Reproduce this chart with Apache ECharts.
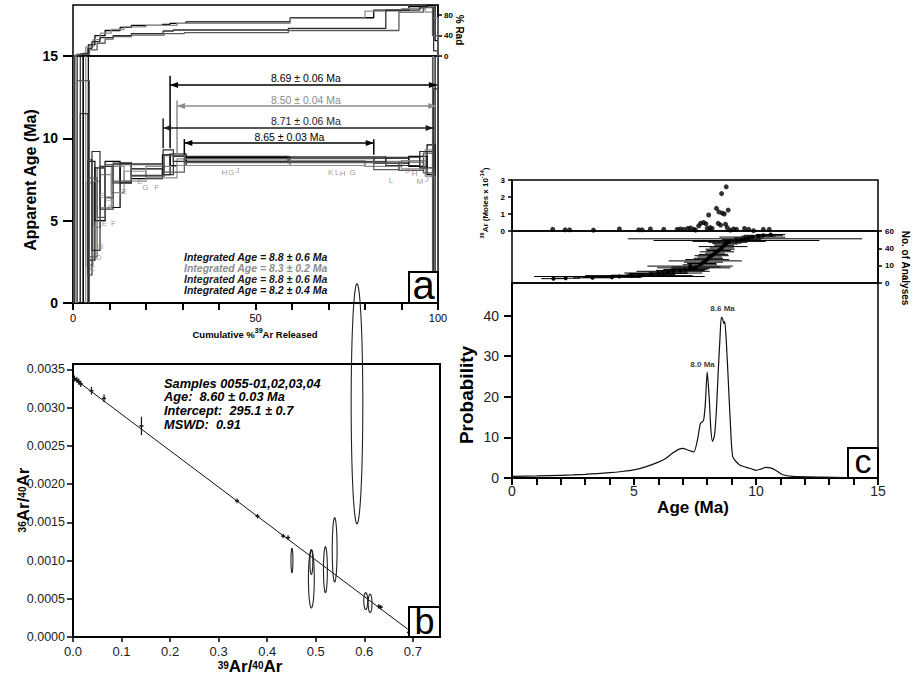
<!DOCTYPE html>
<html><head><meta charset="utf-8">
<script src="https://cdn.jsdelivr.net/npm/echarts@6/dist/echarts.min.js"></script>
<style>html,body{margin:0;padding:0;background:#fff}#c{width:913px;height:681px}</style>
</head><body><div id="c"></div><script>
// ---------- Panel a : step-heating age spectra ----------
// rows: [cum %39Ar start, cum %39Ar end, apparent age (Ma), error (Ma), % radiogenic]
const specBlack = [
  [0.0, 2.8, 6.0, 12.0, 0], [2.8, 4.2, 7.0, 9.0, 5], [4.2, 6.0, 5.6, 3.0, 22],
  [6.0, 8.8, 6.6, 1.6, 40], [8.8, 12.9, 7.2, 1.4, 50], [12.9, 16.0, 7.9, 0.6, 56],
  [16.0, 24.5, 7.85, 0.3, 60], [24.5, 26.6, 8.4, 0.6, 62], [26.6, 31.0, 8.7, 0.35, 64],
  [31.0, 59.5, 8.72, 0.12, 67], [59.5, 82.4, 8.68, 0.12, 75], [82.4, 92.0, 8.65, 0.15, 90],
  [92.0, 97.0, 8.6, 0.3, 97], [97.0, 99.2, 8.7, 0.9, 99], [99.2, 100, 7.5, 9.0, 30]
];
const specGrey = [
  [0.0, 0.8, 5.0, 12.0, 0], [0.8, 3.5, 6.5, 9.5, 3], [3.5, 5.5, 4.8, 2.5, 18],
  [5.5, 7.5, 6.0, 1.4, 32], [7.5, 10.5, 6.8, 1.0, 45], [10.5, 14.0, 7.5, 0.8, 52],
  [14.0, 20.0, 7.7, 0.3, 57], [20.0, 28.5, 7.95, 0.35, 60], [28.5, 59.5, 8.55, 0.2, 64],
  [59.5, 80.0, 8.5, 0.15, 74], [80.0, 90.0, 8.45, 0.15, 88], [90.0, 96.5, 8.4, 0.25, 93],
  [96.5, 98.8, 8.5, 0.8, 86], [98.8, 100, 9.5, 8.0, 75]
];
const specDark = [
  [0.0, 2.0, 7.0, 12.0, 0], [2.0, 4.1, 4.5, 7.0, 4], [4.1, 5.2, 5.2, 3.5, 15],
  [5.2, 7.4, 6.2, 3.0, 28], [7.4, 11.0, 7.0, 1.3, 36], [11.0, 16.0, 7.9, 0.6, 40],
  [16.0, 24.7, 8.1, 0.35, 44], [24.7, 27.5, 8.55, 0.75, 49], [27.5, 59.0, 8.75, 0.15, 51],
  [59.0, 85.7, 8.72, 0.15, 54], [85.7, 95.0, 8.6, 0.25, 90], [95.0, 98.8, 8.7, 0.5, 96],
  [98.8, 100, 6.0, 7.0, 10]
];
const specMid = [
  [0.0, 1.2, 6.0, 12.0, 0], [1.2, 4.5, 5.5, 8.0, 3], [4.5, 6.6, 5.2, 2.4, 12],
  [6.6, 8.8, 6.7, 1.5, 25], [8.8, 11.0, 7.4, 1.0, 33], [11.0, 16.0, 7.9, 0.5, 38],
  [16.0, 25.0, 8.05, 0.35, 41], [25.0, 30.5, 8.45, 0.5, 44], [30.5, 59.0, 8.65, 0.12, 46],
  [59.0, 82.4, 8.65, 0.12, 50], [82.4, 89.3, 8.3, 0.2, 50], [89.3, 96.0, 8.3, 0.25, 86],
  [96.0, 98.5, 8.5, 0.6, 95], [98.5, 100, 9.0, 8.0, 40]
];
// plateau spans [start %, end %] and their labels
const plateauSpans = [[26.6, 99.7], [28.5, 99.5], [24.7, 98.8], [30.5, 82.4]];
const plateauLabels = ['8.69 \u00b1 0.06 Ma', '8.50 \u00b1 0.04 Ma', '8.71 \u00b1 0.06 Ma', '8.65 \u00b1 0.03 Ma'];
const integratedAges = ['Integrated Age = 8.8 \u00b1 0.6 Ma', 'Integrated Age = 8.3 \u00b1 0.2 Ma',
                        'Integrated Age = 8.8 \u00b1 0.6 Ma', 'Integrated Age = 8.2 \u00b1 0.4 Ma'];
// step letters [cum %, age, letter]
const stepLetters = [
  [5.3, 2.1, 'C'], [7.0, 2.75, 'D'], [7.6, 3.45, 'B'], [8.6, 4.8, 'E'], [11.1, 4.8, 'F'],
  [10.3, 5.8, 'D'], [8.0, 6.5, 'E'], [9.6, 6.35, 'G'], [14.1, 6.8, 'E'], [18.4, 7.4, 'E'],
  [19.8, 7.0, 'G'], [22.9, 7.0, 'F'], [41.5, 7.95, 'H'], [43.3, 7.95, 'G'], [45.1, 8.05, 'J'],
  [70.6, 7.95, 'K'], [72.4, 7.95, 'L'], [73.9, 7.85, 'H'], [76.6, 7.95, 'G'], [87.1, 7.45, 'L'],
  [91.6, 8.05, 'J'], [93.6, 7.85, 'H'], [95.0, 7.35, 'M'], [96.9, 7.5, 'J'], [98.5, 7.75, 'K']
];
const cumTicks = [0, 50, 100];
const ageTicks = [0, 5, 10, 15];
const radTicks = [0, 40, 80];

// ---------- Panel b : inverse isochron ----------
const isoXTicks = [0, 0.1, 0.2, 0.3, 0.4, 0.5, 0.6, 0.7];
const isoYTicks = [0, 0.0005, 0.001, 0.0015, 0.002, 0.0025, 0.003, 0.0035];
// [39Ar/40Ar, 36Ar/40Ar, error 36/40]
const isoPoints = [
  [0.003, 0.00338, 0.00004], [0.008, 0.00336, 0.00004], [0.012, 0.00334, 0.00004],
  [0.016, 0.00331, 0.00004], [0.038, 0.00322, 0.00005], [0.064, 0.00312, 0.00005],
  [0.141, 0.00276, 0.00012], [0.338, 0.00178, 0.00003], [0.380, 0.00158, 0.00003],
  [0.433, 0.00132, 0.00003], [0.443, 0.00130, 0.00003], [0.630, 0.00040, 0.00003],
  [0.634, 0.00039, 0.00003], [0.692, 0.00006, 0.00004]
];
// error ellipses [cx, cy, rx, ry]
const isoEllipses = [
  [0.585, 0.00305, 0.012, 0.00157], [0.451, 0.00100, 0.002, 0.00016],
  [0.491, 0.00076, 0.006, 0.00038], [0.491, 0.00098, 0.003, 0.00016],
  [0.520, 0.00088, 0.004, 0.00030], [0.539, 0.00114, 0.005, 0.00042],
  [0.603, 0.00047, 0.004, 0.00011], [0.612, 0.00044, 0.004, 0.00012]
];
const isoLine = [[0, 0.00339], [0.69, 0.00010]];
const isoText = ['Samples 0055-01,02,03,04', 'Age:  8.60 \u00b1 0.03 Ma', 'Intercept:  295.1 \u00b1 0.7', 'MSWD:  0.91'];

// ---------- Panel c : single-crystal ages ----------
// [age Ma, 39Ar moles x1e-14]
const molesPoints = [
  [1.67, 0.1], [2.18, 0.07], [2.36, 0.07], [3.34, 0.05], [4.40, 0.12], [5.19, 0.07], [5.33, 0.07],
  [5.67, 0.12], [6.22, 0.1], [6.77, 0.1], [6.90, 0.12], [7.04, 0.1], [7.20, 0.15], [7.32, 0.18],
  [7.45, 0.1], [7.52, 0.05], [7.65, 0.3], [7.73, 0.45], [7.85, 0.5], [7.95, 0.42], [8.0, 0.15],
  [8.06, 0.94], [8.12, 0.2], [8.20, 0.15], [8.38, 1.33], [8.45, 0.45], [8.48, 1.12], [8.55, 0.35],
  [8.59, 2.2], [8.62, 1.05], [8.70, 1.0], [8.75, 0.4], [8.78, 2.6], [8.82, 0.2], [8.86, 1.23],
  [8.95, 0.05], [9.08, 0.12], [9.20, 0.1], [9.53, 0.15], [9.70, 0.1], [9.90, 0.02], [10.3, 0.1], [10.54, 0.1]
];
// [age Ma, analysis no., error Ma]
const analyses = [
  [1.70, 5, 0.5], [2.20, 5.5, 0.6], [3.30, 6, 0.8], [4.10, 6.5, 1.2], [4.40, 7.5, 3.5], [4.90, 8, 1.0],
  [5.20, 8.5, 2.2], [5.35, 9, 1.3], [5.70, 10, 1.0], [6.00, 11, 1.2], [6.20, 11.5, 1.6], [6.40, 12.5, 0.8],
  [6.60, 13.5, 1.5], [6.90, 14.5, 1.0], [7.10, 15.5, 0.9], [7.30, 16.5, 0.8], [7.45, 17.5, 1.5],
  [7.55, 18.5, 1.0], [7.30, 19.5, 1.75], [7.70, 21, 0.7], [7.78, 22.5, 0.6], [7.85, 24, 0.8],
  [7.92, 25.5, 1.5], [8.00, 27, 0.9], [8.05, 28.5, 0.6], [8.10, 30, 0.5], [8.18, 31.5, 0.7],
  [8.25, 33, 0.6], [8.32, 34.5, 0.4], [8.40, 36, 0.7], [8.47, 37.5, 0.5], [8.53, 39, 0.6],
  [8.60, 40.5, 0.5], [8.65, 42, 1.0], [8.70, 43.5, 0.4], [8.75, 45, 0.5], [8.80, 46, 0.6],
  [8.85, 47, 0.8], [8.90, 48, 1.5], [9.20, 49, 3.4], [9.40, 50, 0.8], [9.55, 51, 4.8],
  [9.70, 52, 0.6], [9.85, 53, 1.35], [10.1, 54, 0.7], [10.3, 55, 0.8], [10.6, 56, 0.6]
];
const analysisTickVals = [0, 20, 40, 60];
const analysisTickText = ['0', '10', '40', '60'];
const molesTicks = [0, 1, 2, 3];
// probability density [age Ma, probability]
const probCurve = [
  [0, 0.4], [1, 0.5], [2, 0.65], [2.5, 0.75], [3, 0.9], [3.5, 1.1], [4, 1.3], [4.5, 1.6], [5, 2.0],
  [5.5, 2.8], [6, 3.9], [6.3, 4.8], [6.6, 6.2], [6.85, 7.1], [7.0, 7.3], [7.2, 6.9], [7.45, 6.4],
  [7.6, 9.3], [7.72, 13.4], [7.85, 14.2], [7.92, 18], [8.0, 26.1], [8.08, 20], [8.15, 12], [8.22, 9.0],
  [8.3, 10.5], [8.38, 17], [8.45, 26], [8.52, 34], [8.58, 39.6], [8.64, 39.0], [8.68, 38.0],
  [8.72, 38.5], [8.78, 34], [8.85, 25.7], [8.95, 13.4], [9.05, 5.2], [9.33, 3.2], [9.74, 2.4],
  [10.0, 1.9], [10.2, 2.2], [10.4, 2.6], [10.6, 2.5], [10.84, 1.8], [11.1, 0.8], [11.5, 0.4],
  [12.7, 0.2], [13.7, 0.1]
];
const peakLabels = [[8.63, 41.8, '8.6 Ma'], [7.81, 27.9, '8.0 Ma']];
const probXTicks = [0, 5, 10, 15];
const probYTicks = [0, 10, 20, 30, 40];

// ================= build chart =================
const FF = '"Liberation Sans", Arial, Helvetica, sans-serif';
const specColors = ['#000000', '#8c8c8c', '#2e2e2e', '#5a5a5a'];
const specs = [specBlack, specGrey, specDark, specMid];
const arrowColors = ['#000000', '#8c8c8c', '#1e1e1e', '#000000'];
const arrowLevels = [13.24, 11.96, 10.63, 9.71];
const arrowTicks = [[13.8, 9.4], [12.3, 9.0], [11.2, 9.4], [9.95, 9.0]];
const arrowTextX = [63.8, 63.8, 63.8, 59.3];
const integratedColors = ['#111111', '#8c8c8c', '#222222', '#111111'];
const CLEAR = 'rgba(0,0,0,0)';

function txt(x, y, text, o) {
  o = o || {};
  return {
    type: 'text', x: x, y: y, rotation: o.rot || 0, z: 100,
    style: {
      text: text, fill: o.color || '#000', fontSize: o.size || 12, fontWeight: o.weight || 'normal',
      fontStyle: o.style || 'normal', fontFamily: FF, lineHeight: o.lh,
      align: o.align || 'center', verticalAlign: o.va || 'middle',
      textAlign: o.align || 'center', textVerticalAlign: o.va || 'middle', rich: o.rich
    }
  };
}
function letterBox(x, y, w, h, letter, size, ty) {
  return {
    type: 'group', z: 90, children: [
      { type: 'rect', shape: { x: x, y: y, width: w, height: h }, style: { fill: '#fff', stroke: '#000', lineWidth: 2 }, z: 90 },
      txt(x + w / 2, ty, letter, { size: size })
    ]
  };
}
function boxSeries(steps, color) {
  return {
    type: 'custom', xAxisIndex: 1, yAxisIndex: 1, clip: true, silent: true,
    encode: { x: [0, 1], y: 2 },
    data: steps.map(s => [s[0], s[1], s[2], s[3]]),
    renderItem(params, api) {
      const x0 = api.value(0), x1 = api.value(1), a = api.value(2), e = api.value(3);
      const p0 = api.coord([x0, a + e]), p1 = api.coord([x1, a - e]);
      return { type: 'rect', shape: { x: p0[0], y: p0[1], width: p1[0] - p0[0], height: p1[1] - p0[1] },
               style: { fill: 'none', stroke: color, lineWidth: 1.2 } };
    }
  };
}
function radSeries(steps, color) {
  const pts = [[0, 0]];
  steps.forEach(s => { pts.push([s[0], s[4]]); pts.push([s[1], s[4]]); });
  pts.push([100, 0]);
  return { type: 'line', xAxisIndex: 0, yAxisIndex: 0, data: pts, showSymbol: false, symbol: 'none',
           lineStyle: { color: color, width: 1.3 }, silent: true };
}
const axLine = w => ({ show: true, onZero: false, lineStyle: { color: '#000', width: w } });
const noSplit = { show: false };

const integratedRich = {};
integratedColors.forEach((c, i) => {
  integratedRich['l' + i] = { fill: c, color: c, fontSize: 10.5, fontWeight: 'bold', fontStyle: 'italic', fontFamily: FF, lineHeight: 11 };
});
const integratedText = integratedAges.map((t, i) => '{l' + i + '|' + t + '}').join('\n');

const option = {
  animation: false,
  backgroundColor: '#fff',
  grid: [
    { left: 73, top: 5, width: 365, height: 51, show: true, borderColor: '#000', borderWidth: 1.5, backgroundColor: 'transparent', containLabel: false, outerBoundsMode: 'none' },
    { left: 73, top: 56, width: 365, height: 247, show: true, borderColor: '#000', borderWidth: 1.5, backgroundColor: 'transparent', containLabel: false, outerBoundsMode: 'none' },
    { left: 73, top: 364, width: 367, height: 273, show: true, borderColor: '#000', borderWidth: 2, backgroundColor: 'transparent', containLabel: false, outerBoundsMode: 'none' },
    { left: 512, top: 180, width: 366, height: 51, show: true, borderColor: '#000', borderWidth: 1.5, backgroundColor: 'transparent', containLabel: false, outerBoundsMode: 'none' },
    { left: 512, top: 231, width: 366, height: 52, show: true, borderColor: '#000', borderWidth: 1.5, backgroundColor: 'transparent', containLabel: false, outerBoundsMode: 'none' },
    { left: 512, top: 283, width: 366, height: 195, show: true, borderColor: '#000', borderWidth: 1.5, backgroundColor: 'transparent', containLabel: false, outerBoundsMode: 'none' }
  ],
  xAxis: [
    { gridIndex: 0, type: 'value', min: 0, max: 100, show: false },
    { gridIndex: 1, type: 'value', min: 0, max: 100, interval: 10, axisLine: axLine(2),
      axisTick: { show: true, length: 7, lineStyle: { color: '#000', width: 2 } },
      axisLabel: { customValues: cumTicks, fontSize: 11, color: '#000', margin: 9, fontFamily: FF }, splitLine: noSplit },
    { gridIndex: 2, type: 'value', min: 0, max: 0.756, axisLine: axLine(2),
      axisTick: { customValues: isoXTicks, length: 5, lineStyle: { color: '#000', width: 1.5 } },
      axisLabel: { customValues: isoXTicks, formatter: v => v.toFixed(1), fontSize: 13, color: '#222', margin: 8, fontFamily: FF },
      splitLine: noSplit },
    { gridIndex: 3, type: 'value', min: 0, max: 15, show: false },
    { gridIndex: 4, type: 'value', min: 0, max: 15, show: false },
    { gridIndex: 5, type: 'value', min: 0, max: 15, interval: 1, axisLine: axLine(2),
      axisTick: { show: true, length: 7, lineStyle: { color: '#000', width: 2 } },
      axisLabel: { customValues: probXTicks, fontSize: 14, color: '#222', margin: 6, fontFamily: FF }, splitLine: noSplit }
  ],
  yAxis: [
    { gridIndex: 0, type: 'value', position: 'right', min: 0, max: 100, axisLine: axLine(1.5),
      axisTick: { customValues: radTicks, length: 4, lineStyle: { color: '#000', width: 1.5 } },
      axisLabel: { customValues: radTicks, fontSize: 8, fontWeight: 'bold', color: '#000', margin: 6, fontFamily: FF }, splitLine: noSplit },
    { gridIndex: 1, type: 'value', min: 0, max: 15, axisLine: axLine(2.5),
      axisTick: { customValues: ageTicks, length: 10, lineStyle: { color: '#000', width: 2 } },
      axisLabel: { customValues: ageTicks, fontSize: 14, fontWeight: 'bold', color: '#000', margin: 15, fontFamily: FF }, splitLine: noSplit },
    { gridIndex: 2, type: 'value', min: 0, max: 0.00357, axisLine: axLine(2),
      axisTick: { customValues: isoYTicks, length: 6, lineStyle: { color: '#000', width: 1.5 } },
      axisLabel: { customValues: isoYTicks, formatter: v => v.toFixed(4), fontSize: 12.5, color: '#222', margin: 8, fontFamily: FF },
      splitLine: noSplit },
    { gridIndex: 3, type: 'value', min: 0, max: 3, axisLine: axLine(1.5),
      axisTick: { customValues: molesTicks, length: 4, lineStyle: { color: '#000', width: 1.5 } },
      axisLabel: { customValues: molesTicks, fontSize: 8, fontWeight: 'bold', color: '#000', margin: 7, fontFamily: FF }, splitLine: noSplit },
    { gridIndex: 4, type: 'value', position: 'right', min: 0, max: 60, axisLine: axLine(1.5),
      axisTick: { customValues: analysisTickVals, length: 4, lineStyle: { color: '#000', width: 1.5 } },
      axisLabel: { customValues: analysisTickVals, formatter: v => analysisTickText[analysisTickVals.indexOf(v)],
                   fontSize: 8, fontWeight: 'bold', color: '#000', margin: 7, fontFamily: FF }, splitLine: noSplit },
    { gridIndex: 5, type: 'value', min: 0, max: 48, axisLine: axLine(2),
      axisTick: { customValues: probYTicks, length: 8, lineStyle: { color: '#000', width: 2 } },
      axisLabel: { customValues: probYTicks, fontSize: 14, color: '#222', margin: 13, fontFamily: FF }, splitLine: noSplit }
  ],
  series: [
    ...specs.map((s, i) => boxSeries(s, specColors[i])),
    ...specs.map((s, i) => radSeries(s, specColors[i])),
    { type: 'custom', xAxisIndex: 1, yAxisIndex: 1, clip: false, silent: true, z: 5,
      data: plateauSpans.map((p, i) => [p[0], p[1], arrowLevels[i]]),
      renderItem(params, api) {
        const i = params.dataIndex, col = arrowColors[i];
        const lv = api.value(2);
        const a = api.coord([api.value(0), lv]), b = api.coord([api.value(1), lv]);
        const t0 = api.coord([api.value(0), arrowTicks[i][0]]), t1 = api.coord([api.value(0), arrowTicks[i][1]]);
        const tc = api.coord([arrowTextX[i], lv]);
        const kids = [
          { type: 'line', shape: { x1: a[0], y1: a[1], x2: b[0], y2: b[1] }, style: { stroke: col, lineWidth: 1.5 } },
          { type: 'polygon', shape: { points: [[a[0], a[1]], [a[0] + 8, a[1] - 3], [a[0] + 8, a[1] + 3]] }, style: { fill: col } },
          { type: 'polygon', shape: { points: [[b[0], b[1]], [b[0] - 8, b[1] - 3], [b[0] - 8, b[1] + 3]] }, style: { fill: col } },
          { type: 'line', shape: { x1: t0[0], y1: t0[1], x2: t1[0], y2: t1[1] }, style: { stroke: col, lineWidth: 1.5 } },
          { type: 'text', x: tc[0], y: tc[1] - 1, style: { text: plateauLabels[i], fill: col, fontSize: 10.5, fontFamily: FF,
            align: 'center', verticalAlign: 'bottom', textAlign: 'center', textVerticalAlign: 'bottom' } }
        ];
        if (i === 3) {
          const r0 = api.coord([api.value(1), arrowTicks[i][0]]), r1 = api.coord([api.value(1), arrowTicks[i][1]]);
          kids.push({ type: 'line', shape: { x1: r0[0], y1: r0[1], x2: r1[0], y2: r1[1] }, style: { stroke: col, lineWidth: 1.5 } });
        }
        return { type: 'group', children: kids };
      }
    },
    { type: 'scatter', xAxisIndex: 1, yAxisIndex: 1, symbolSize: 1, itemStyle: { color: CLEAR }, silent: true,
      data: stepLetters, label: { show: true, position: 'inside', formatter: p => p.value[2], color: '#808080', fontSize: 8, fontFamily: FF } },
    // panel b
    { type: 'line', xAxisIndex: 2, yAxisIndex: 2, data: isoLine, showSymbol: false, symbol: 'none',
      lineStyle: { color: '#111', width: 1 }, silent: true },
    { type: 'custom', xAxisIndex: 2, yAxisIndex: 2, clip: false, silent: true, data: isoPoints,
      renderItem(params, api) {
        const x = api.value(0), y = api.value(1), e = api.value(2);
        const t = api.coord([x, y + e]), b = api.coord([x, y - e]), c = api.coord([x, y]);
        return { type: 'group', children: [
          { type: 'line', shape: { x1: t[0], y1: t[1], x2: b[0], y2: b[1] }, style: { stroke: '#111', lineWidth: 1.2 } },
          { type: 'line', shape: { x1: c[0] - 2, y1: c[1], x2: c[0] + 2, y2: c[1] }, style: { stroke: '#111', lineWidth: 1.5 } }
        ] };
      }
    },
    { type: 'custom', xAxisIndex: 2, yAxisIndex: 2, clip: false, silent: true, data: isoEllipses, z: 4,
      renderItem(params, api) {
        const cx = api.value(0), cy = api.value(1), rx = api.value(2), ry = api.value(3);
        const pts = [];
        for (let k = 0; k <= 60; k++) {
          const t = k / 60 * 2 * Math.PI;
          pts.push(api.coord([cx + rx * Math.cos(t), cy + ry * Math.sin(t)]));
        }
        return { type: 'polygon', shape: { points: pts }, style: { fill: 'none', stroke: '#222', lineWidth: 1.1 } };
      }
    },
    // panel c
    { type: 'scatter', xAxisIndex: 3, yAxisIndex: 3, data: molesPoints, symbolSize: 5,
      itemStyle: { color: '#000' }, silent: true, clip: false },
    { type: 'custom', xAxisIndex: 4, yAxisIndex: 4, clip: true, silent: true, data: analyses,
      renderItem(params, api) {
        const age = api.value(0), r = api.value(1), e = api.value(2);
        const a = api.coord([age - e, r]), b = api.coord([age + e, r]), c = api.coord([age, r]);
        return { type: 'group', children: [
          { type: 'line', shape: { x1: a[0], y1: a[1], x2: b[0], y2: b[1] }, style: { stroke: '#000', lineWidth: 1 } },
          { type: 'circle', shape: { cx: c[0], cy: c[1], r: 2 }, style: { fill: '#000' } }
        ] };
      }
    },
    { type: 'line', xAxisIndex: 5, yAxisIndex: 5, data: probCurve, showSymbol: false, symbol: 'none', smooth: 0.2,
      lineStyle: { color: '#111', width: 1.2 }, silent: true },
    { type: 'scatter', xAxisIndex: 5, yAxisIndex: 5, symbolSize: 1, itemStyle: { color: CLEAR }, silent: true,
      data: peakLabels, label: { show: true, position: 'inside', formatter: p => p.value[2], color: '#000',
      fontSize: 8, fontWeight: 'bold', fontFamily: FF } }
  ],
  graphic: [
    txt(30, 180, 'Apparent Age (Ma)', { rot: Math.PI / 2, size: 16, weight: 'bold' }),
    txt(459, 30, '% Rad', { rot: -Math.PI / 2, size: 10, weight: 'bold' }),
    txt(255, 333, '{n|Cumulative %}{s|39}{n|Ar Released}', { rich: {
      n: { fontSize: 9.5, fontWeight: 'bold', fontFamily: FF, verticalAlign: 'bottom', lineHeight: 13 },
      s: { fontSize: 7, fontWeight: 'bold', fontFamily: FF, verticalAlign: 'top', lineHeight: 13 } } }),
    txt(184, 251.5, integratedText, { align: 'left', va: 'top', rich: integratedRich }),
    letterBox(409, 272, 29, 31, 'a', 40, 285),
    // panel b
    txt(22, 500, '{s|36}{n|Ar/}{s|40}{n|Ar}', { rot: Math.PI / 2, rich: {
      n: { fontSize: 17, fontWeight: 'bold', fontFamily: FF, verticalAlign: 'bottom', lineHeight: 20 },
      s: { fontSize: 10, fontWeight: 'bold', fontFamily: FF, verticalAlign: 'middle', lineHeight: 20 } } }),
    txt(250, 665, '{s|39}{n|Ar/}{s|40}{n|Ar}', { rich: {
      n: { fontSize: 17, fontWeight: 'bold', fontFamily: FF, verticalAlign: 'bottom', lineHeight: 20 },
      s: { fontSize: 10, fontWeight: 'bold', fontFamily: FF, verticalAlign: 'middle', lineHeight: 20 } } }),
    txt(164, 376.2, isoText.join('\n'), { align: 'left', va: 'top', size: 12.8, weight: 'bold', style: 'italic', lh: 13.8 }),
    letterBox(409, 607, 31, 30, 'b', 36, 621),
    // panel c
    txt(484, 203, '{s|39}{n|Ar (Moles x 10}{s|-14}{n|)}', { rot: Math.PI / 2, rich: {
      n: { fontSize: 8, fontWeight: 'bold', fontFamily: FF, verticalAlign: 'bottom', lineHeight: 10 },
      s: { fontSize: 5.5, fontWeight: 'bold', fontFamily: FF, verticalAlign: 'top', lineHeight: 10 } } }),
    txt(905, 268, 'No. of Analyses', { rot: -Math.PI / 2, size: 10, weight: 'bold' }),
    txt(466, 395, 'Probability', { rot: Math.PI / 2, size: 19, weight: 'bold' }),
    txt(693, 507, 'Age (Ma)', { size: 17, weight: 'bold' }),
    letterBox(848, 448, 30, 30, 'c', 34, 461)
  ]
};
const chart = echarts.init(document.getElementById('c'), null, { renderer: 'svg', width: 913, height: 681 });
chart.setOption(option);
</script></body></html>
